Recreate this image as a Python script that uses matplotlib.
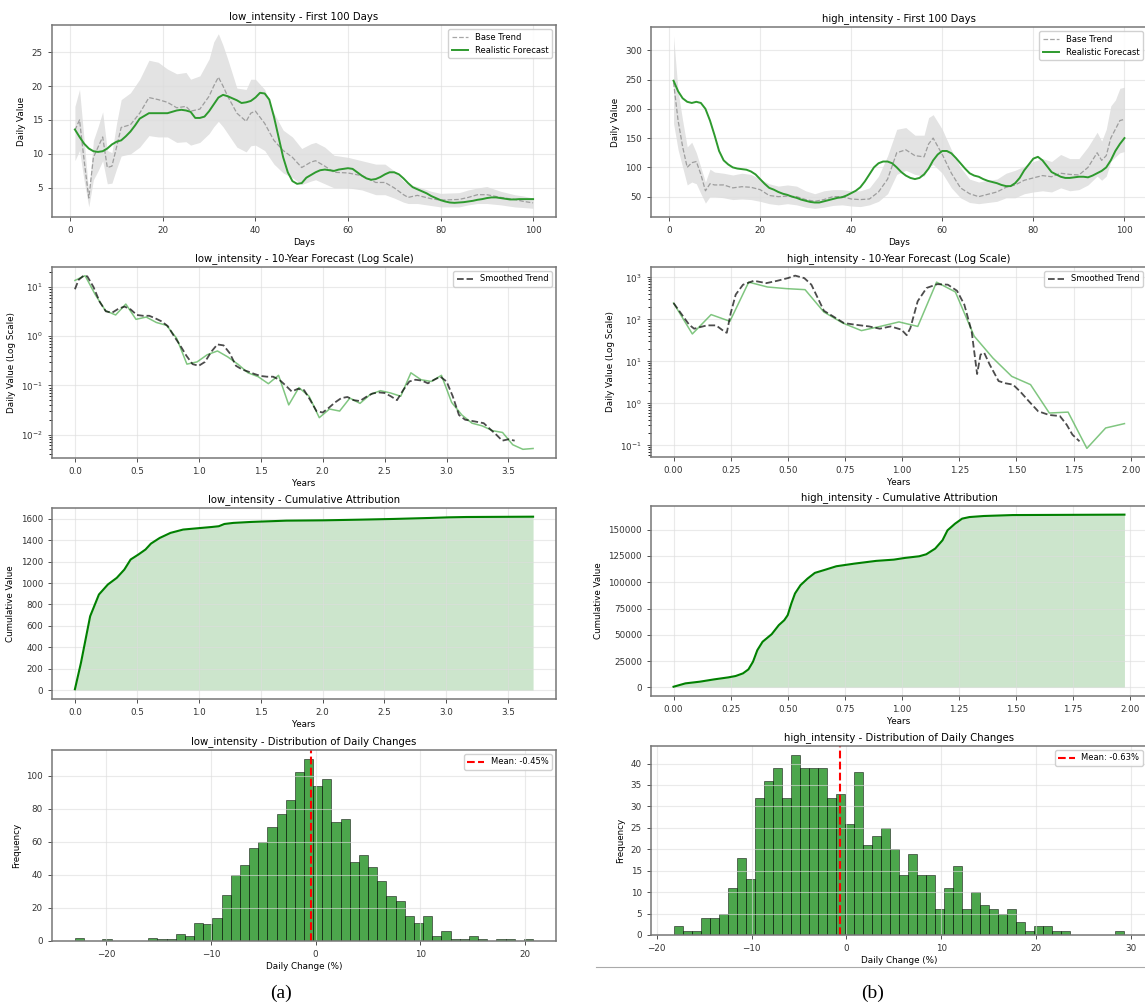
import numpy as np
import matplotlib
matplotlib.use("Agg")
import matplotlib.pyplot as plt
from matplotlib.lines import Line2D

# ---------------- data ----------------
# first 100 days, low_intensity
low_days = np.arange(1, 101)
low_forecast = [13.6, 12.5, 11.5, 10.8, 10.4, 10.3, 10.4, 10.8, 11.4, 11.8,
                12.0, 12.6, 13.3, 14.2, 15.2, 15.6, 16.0, 16.0, 16.0, 16.0,
                16.0, 16.2, 16.4, 16.5, 16.4, 16.2, 15.3, 15.3, 15.5, 16.3,
                17.3, 18.3, 18.7, 18.5, 18.2, 17.9, 17.5, 17.6, 17.8, 18.3,
                19.0, 18.9, 18.0, 15.5, 12.5, 9.5, 7.3, 6.0, 5.6, 5.7,
                6.5, 6.9, 7.3, 7.6, 7.7, 7.6, 7.5, 7.7, 7.8, 7.9,
                7.8, 7.3, 6.8, 6.4, 6.2, 6.3, 6.6, 7.0, 7.3, 7.3,
                7.0, 6.4, 5.7, 5.1, 4.8, 4.5, 4.2, 3.8, 3.5, 3.2,
                3.0, 2.85, 2.8, 2.85, 2.9, 3.0, 3.1, 3.25, 3.35, 3.5,
                3.6, 3.6, 3.5, 3.4, 3.3, 3.3, 3.35, 3.35, 3.35, 3.35]
low_band_days = [1, 2, 3, 4, 5, 6, 7, 8, 9, 10, 11, 13, 15, 17, 19, 21, 23, 25, 26, 28,
                 30, 31, 32, 33, 34, 36, 38, 39, 40, 42, 44, 46, 48, 50, 52, 53, 55, 57, 60, 63,
                 66, 68, 70, 72, 73, 75, 78, 80, 84, 86, 88, 90, 93, 96, 98, 100]
low_base = [13.5, 15.0, 9.0, 3.5, 9.5, 11.0, 12.5, 8.0, 8.2, 11.0, 13.9, 14.3, 16.0, 18.3, 18.0,
            17.6, 16.8, 17.0, 16.3, 16.6, 18.5, 20.0, 21.3, 20.0, 18.5, 16.0, 14.8, 16.0, 16.3, 14.5,
            12.0, 10.5, 9.5, 8.0, 8.8, 9.0, 8.2, 7.3, 7.2, 6.8, 5.8, 5.8, 5.0, 4.0, 3.6,
            3.9, 3.4, 3.2, 3.3, 3.6, 4.0, 4.0, 3.6, 3.3, 3.0, 2.8]
low_upper = [17.0, 19.5, 12.0, 4.2, 12.0, 14.0, 16.2, 10.5, 10.2, 14.5, 18.0, 19.0, 21.0, 23.8, 23.5,
             22.5, 21.8, 22.0, 21.0, 21.5, 24.0, 26.5, 27.7, 26.0, 24.0, 19.7, 19.5, 21.0, 21.0, 19.5,
             16.0, 13.5, 12.5, 10.8, 11.5, 11.7, 11.0, 9.8, 9.5, 9.0, 8.5, 8.5, 7.5, 6.0, 5.5,
             5.2, 4.5, 4.2, 4.3, 4.7, 5.0, 5.2, 4.5, 4.0, 3.8, 3.5]
low_lower = [9.0, 10.5, 6.0, 2.2, 6.2, 7.5, 9.0, 5.6, 5.7, 7.8, 9.7, 10.0, 11.0, 12.7, 12.5,
             12.5, 11.7, 11.8, 11.3, 11.7, 13.0, 14.0, 14.8, 14.0, 13.0, 11.0, 10.3, 11.2, 11.3, 10.5,
             8.5, 7.2, 6.5, 5.5, 6.0, 6.2, 5.6, 5.0, 5.0, 4.7, 4.0, 4.0, 3.5, 2.9, 2.7,
             2.7, 2.4, 2.2, 2.2, 2.5, 2.7, 2.7, 2.5, 2.2, 2.1, 2.0]

# first 100 days, high_intensity
high_days = np.arange(1, 101)
high_forecast = [248, 230, 218, 212, 210, 212, 210, 200, 180, 155,
                 128, 112, 105, 100, 98, 97, 96, 93, 88, 80,
                 72, 65, 62, 58, 55, 53, 50, 48, 45, 43,
                 41, 40, 40, 42, 44, 46, 48, 49, 52, 56,
                 60, 66, 76, 88, 100, 107, 110, 110, 107, 100,
                 92, 86, 82, 80, 82, 88, 98, 112, 122, 128,
                 128, 124, 116, 107, 98, 90, 86, 84, 80, 77,
                 75, 73, 70, 68, 68, 73, 82, 95, 105, 115,
                 118, 112, 102, 92, 88, 84, 82, 82, 83, 84,
                 84, 83, 86, 90, 94, 100, 112, 128, 140, 150]
high_band_days = [1, 2, 3, 4, 5, 6, 7, 8, 9, 10, 12, 14, 16, 18, 20, 22, 24, 26, 28, 30,
                  32, 34, 36, 38, 40, 42, 44, 46, 48, 50, 52, 54, 56, 57, 58, 60, 62, 64, 66, 68,
                  70, 72, 74, 76, 78, 80, 82, 84, 86, 88, 90, 92, 94, 95, 96, 97, 98, 99, 100]
high_base = [245, 180, 135, 100, 108, 110, 88, 60, 72, 70, 70, 65, 67, 66, 62, 52, 50, 51, 50, 45,
             42, 45, 50, 50, 46, 45, 46, 58, 80, 125, 130, 120, 118, 140, 150, 122, 90, 65, 55, 50,
             54, 58, 66, 70, 78, 82, 86, 84, 90, 88, 87, 100, 125, 112, 120, 150, 165, 180, 182]
high_upper = [325, 230, 180, 135, 143, 125, 100, 75, 97, 92, 90, 87, 90, 88, 80, 72, 68, 70, 68, 60,
              55, 60, 62, 62, 60, 60, 65, 85, 120, 165, 168, 155, 155, 185, 190, 165, 130, 100, 80, 75,
              78, 80, 90, 95, 102, 110, 115, 110, 122, 115, 115, 135, 160, 145, 165, 205, 215, 235, 237]
high_lower = [175, 130, 100, 70, 75, 72, 55, 39, 50, 50, 48, 45, 46, 45, 42, 38, 36, 38, 36, 32,
              30, 32, 35, 36, 34, 33, 36, 42, 55, 88, 95, 88, 85, 100, 105, 90, 65, 48, 40, 38,
              40, 42, 48, 48, 55, 58, 60, 58, 65, 60, 62, 70, 85, 78, 85, 110, 118, 125, 127]

# long horizon, sampled every 30 days (years = day / 365)
low_sample_days = np.arange(0, 1351, 30)
low_sampled = [13.6, 17.0, 7.0, 3.3, 2.7, 4.5, 2.2, 2.45, 1.9, 1.66,
               0.9, 0.27, 0.3, 0.42, 0.5, 0.38, 0.27, 0.18, 0.15, 0.108,
               0.16, 0.04, 0.09, 0.06, 0.022, 0.033, 0.03, 0.055, 0.043, 0.065,
               0.078, 0.07, 0.06, 0.18, 0.13, 0.12, 0.16, 0.045, 0.025, 0.017,
               0.015, 0.012, 0.011, 0.0062, 0.005, 0.0052]
low_smooth_years = [0.0, 0.03, 0.07, 0.1, 0.15, 0.2, 0.25, 0.3, 0.35, 0.4, 0.45, 0.5, 0.55, 0.6,
                    0.65, 0.7, 0.75, 0.8, 0.85, 0.9, 0.95, 1.0, 1.05, 1.1, 1.15, 1.2, 1.25, 1.3,
                    1.35, 1.4, 1.45, 1.5, 1.55, 1.6, 1.65, 1.7, 1.75, 1.8, 1.85, 1.9, 1.95, 2.0,
                    2.05, 2.1, 2.15, 2.2, 2.25, 2.3, 2.35, 2.4, 2.45, 2.5, 2.55, 2.6, 2.65, 2.7,
                    2.75, 2.8, 2.85, 2.9, 2.95, 3.0, 3.05, 3.1, 3.15, 3.2, 3.25, 3.3, 3.35, 3.4,
                    3.45, 3.5, 3.55]
low_smooth = [9.0, 14.0, 17.0, 16.5, 10.0, 5.0, 3.2, 3.0, 3.6, 4.0, 3.5, 2.7, 2.6, 2.6,
              2.3, 2.0, 1.6, 1.0, 0.65, 0.4, 0.27, 0.25, 0.3, 0.48, 0.68, 0.65, 0.45, 0.25,
              0.21, 0.19, 0.17, 0.155, 0.15, 0.15, 0.13, 0.1, 0.075, 0.085, 0.08, 0.05, 0.03, 0.028,
              0.035, 0.045, 0.055, 0.058, 0.05, 0.048, 0.058, 0.068, 0.072, 0.07, 0.06, 0.05, 0.08, 0.12,
              0.13, 0.125, 0.11, 0.13, 0.15, 0.12, 0.06, 0.025, 0.02, 0.019, 0.018, 0.017, 0.013, 0.01,
              0.0075, 0.008, 0.0075]

high_sample_days = np.arange(0, 721, 30)
high_sampled = [245, 45, 130, 90, 770, 590, 540, 510, 150, 82, 54, 68, 87,
                68, 770, 450, 40, 12, 4.4, 2.8, 0.59, 0.62, 0.085, 0.26, 0.33]
high_smooth_years = [0.0, 0.068, 0.09, 0.146, 0.186, 0.225, 0.233, 0.25, 0.272, 0.304, 0.351,
                     0.406, 0.454, 0.5, 0.532, 0.572, 0.603, 0.635, 0.658, 0.698, 0.745, 0.792,
                     0.855, 0.902, 0.95, 0.997, 1.02, 1.036, 1.068, 1.107, 1.154, 1.2, 1.24,
                     1.272, 1.304, 1.328, 1.343, 1.359, 1.383, 1.422, 1.454, 1.485, 1.517,
                     1.556, 1.595, 1.643, 1.69, 1.72, 1.745, 1.776]
high_smooth = [245, 75, 60, 72, 72, 50, 48, 140, 390, 670, 830,
               730, 830, 960, 1100, 960, 670, 290, 160, 118, 82, 75,
               68, 60, 68, 57, 42, 62, 270, 560, 690, 670, 480,
               225, 52, 5, 14.5, 16, 8.4, 3.4, 3.0, 2.8, 1.9,
               1.1, 0.65, 0.53, 0.5, 0.31, 0.18, 0.125]

# cumulative attribution
low_cum_years = [0.0, 0.049, 0.123, 0.194, 0.266, 0.338, 0.399, 0.45, 0.512, 0.57, 0.614,
                 0.685, 0.772, 0.874, 0.989, 1.105, 1.162, 1.207, 1.279, 1.422, 1.565, 1.708,
                 2.005, 2.292, 2.578, 2.864, 3.018, 3.161, 3.7]
low_cum = [10, 257, 690, 893, 986, 1048, 1125, 1219, 1265, 1312, 1367,
           1420, 1467, 1498, 1510, 1522, 1529, 1550, 1560, 1569, 1575, 1581,
           1584, 1590, 1597, 1606, 1612, 1615, 1618]
high_cum_years = [0.0, 0.052, 0.115, 0.178, 0.24, 0.272, 0.304, 0.328, 0.348, 0.367, 0.39,
                  0.43, 0.461, 0.485, 0.5, 0.516, 0.532, 0.556, 0.587, 0.619, 0.666, 0.713,
                  0.792, 0.887, 0.965, 1.013, 1.076, 1.107, 1.146, 1.178, 1.2, 1.233, 1.264,
                  1.296, 1.359, 1.485, 1.975]
high_cum = [600, 3800, 5400, 7600, 9500, 10800, 13300, 17100, 24400, 35400, 43400,
            50600, 59200, 63900, 68700, 79800, 89300, 97200, 103500, 108900, 112000, 115200,
            117700, 120300, 121500, 123100, 124700, 126600, 132000, 139900, 149400, 155700, 160500,
            162000, 163000, 163900, 164300]

# distribution of daily changes (50 bins)
low_bin_range = (-23.0, 20.8)
low_counts = [2, 0, 0, 1, 0, 0, 0, 0, 2, 1, 1, 4, 3, 11, 10, 14, 28, 40, 46, 56,
              60, 69, 77, 85, 102, 110, 94, 98, 72, 74, 48, 52, 45, 36, 27, 24, 15, 11, 15, 3,
              6, 1, 1, 3, 1, 0, 1, 1, 0, 1]
low_mean = -0.45
high_bin_range = (-18.22, 29.32)
high_counts = [2, 1, 1, 4, 4, 5, 11, 18, 13, 32, 36, 39, 32, 42, 39, 39, 39, 32, 33, 26,
               38, 21, 23, 25, 20, 14, 19, 14, 14, 6, 11, 16, 6, 10, 7, 6, 5, 6, 3, 1,
               2, 2, 1, 1, 0, 0, 0, 0, 0, 1]
high_mean = -0.63

# ---------------- figure ----------------
W, H = 1145, 1006
fig = plt.figure(figsize=(W / 100, H / 100), dpi=100)
plt.rcParams['font.family'] = 'DejaVu Sans'

TS, LS, KS, GS = 7.3, 6.3, 6.3, 6.0  # title, label, tick, legend sizes


def make_ax(x0, x1, top, bottom):
    ax = fig.add_axes([x0 / W, 1 - bottom / H, (x1 - x0) / W, (bottom - top) / H])
    ax.grid(True, color='#dddddd', alpha=0.6, linewidth=0.8)
    ax.tick_params(labelsize=KS, length=3, width=0.6, colors='#333333')
    for s in ax.spines.values():
        s.set_color('#777777')
        s.set_linewidth(1.1)
    return ax


LX0, LX1 = 52, 556
RX0, RX1 = 651, 1147
rows_left = [(25, 217), (267, 458), (508, 699), (750, 941)]
rows_right = [(27, 217), (267, 457), (506, 696), (746, 935)]

panels = [
    ('low_intensity', LX0, LX1, rows_left, low_days, low_forecast, low_band_days, low_base,
     low_upper, low_lower, low_sample_days, low_sampled, low_smooth_years, low_smooth,
     low_cum_years, low_cum, low_bin_range, low_counts, low_mean),
    ('high_intensity', RX0, RX1, rows_right, high_days, high_forecast, high_band_days, high_base,
     high_upper, high_lower, high_sample_days, high_sampled, high_smooth_years, high_smooth,
     high_cum_years, high_cum, high_bin_range, high_counts, high_mean),
]

for (name, x0, x1, rows, days, fc, bdays, base, up, lo, sdays, sval, smy, smv,
     cy, cv, brange, counts, mean) in panels:
    # 1) first 100 days
    ax = make_ax(x0, x1, *rows[0])
    ax.fill_between(bdays, lo, up, color='gray', alpha=0.22, linewidth=0)
    ax.plot(bdays, base, color='gray', linestyle='--', linewidth=0.9, alpha=0.7, label='Base Trend')
    ax.plot(days, fc, color='#2e9a2e', linewidth=1.4, label='Realistic Forecast')
    ax.set_title(f'{name} - First 100 Days', fontsize=TS, pad=4)
    ax.set_xlabel('Days', fontsize=LS, labelpad=2)
    ax.set_ylabel('Daily Value', fontsize=LS)
    ax.legend(loc='upper right', fontsize=GS, framealpha=0.9)

    # 2) long-horizon log plot
    ax = make_ax(x0, x1, *rows[1])
    ax.plot(np.array(sdays) / 365, sval, color='#2ca02c', alpha=0.6, linewidth=1.1)
    ax.plot(smy, smv, color='black', linestyle='--', alpha=0.7, linewidth=1.3, label='Smoothed Trend')
    ax.set_yscale('log')
    ax.set_title(f'{name} - 10-Year Forecast (Log Scale)', fontsize=TS, pad=4)
    ax.set_xlabel('Years', fontsize=LS, labelpad=2)
    ax.set_ylabel('Daily Value (Log Scale)', fontsize=LS)
    ax.legend(loc='upper right', fontsize=GS, framealpha=0.9)

    # 3) cumulative
    ax = make_ax(x0, x1, *rows[2])
    ax.fill_between(cy, cv, color='green', alpha=0.2, linewidth=0)
    ax.plot(cy, cv, color='green', linewidth=1.5)
    ax.set_title(f'{name} - Cumulative Attribution', fontsize=TS, pad=4)
    ax.set_xlabel('Years', fontsize=LS, labelpad=2)
    ax.set_ylabel('Cumulative Value', fontsize=LS)

    # 4) histogram
    ax = make_ax(x0, x1, *rows[3])
    edges = np.linspace(brange[0], brange[1], len(counts) + 1)
    ax.hist(edges[:-1], bins=edges, weights=counts, color='green', alpha=0.7,
            edgecolor='black', linewidth=0.5)
    ax.axvline(mean, color='red', linestyle='--', linewidth=1.5, label=f'Mean: {mean:.2f}%')
    ax.set_title(f'{name} - Distribution of Daily Changes', fontsize=TS, pad=4)
    ax.set_xlabel('Daily Change (%)', fontsize=LS, labelpad=2)
    ax.set_ylabel('Frequency', fontsize=LS)
    ax.legend(loc='upper right', fontsize=GS, framealpha=0.9)

# captions and separator
fig.text(281 / W, 1 - 993 / H, '(a)', ha='center', va='center',
         family='Liberation Serif', fontsize=14)
fig.text(873 / W, 1 - 993 / H, '(b)', ha='center', va='center',
         family='Liberation Serif', fontsize=14)
fig.add_artist(Line2D([596 / W, 1.0], [1 - 967 / H] * 2, color='#aaaaaa', linewidth=0.8))

fig.savefig('out.png', dpi=100)
